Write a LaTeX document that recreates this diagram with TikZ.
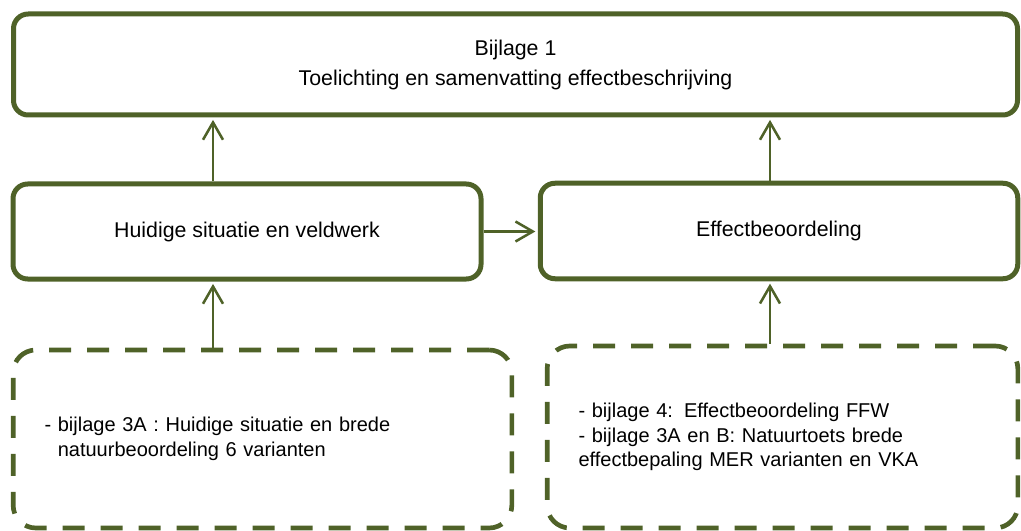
\documentclass[tikz,border=0pt]{standalone}
\usepackage{fontspec}
\setmainfont{Liberation Sans}
\usetikzlibrary{arrows.meta}
\definecolor{boxgreen}{HTML}{4F6228}
\newcommand{\px}{0.75pt}
\newcommand{\boxline}{3.75pt}
\newcommand{\arrline}{1.9pt}

\begin{document}
\begin{tikzpicture}[x=\px, y=-\px,
  box/.style={draw=boxgreen, line width=\boxline, rounded corners=11pt,
    align=center, font=\fontsize{16}{22.5}\selectfont},
  dashbox/.style={draw=boxgreen, line width=3.5pt, rounded corners=17pt,
    dash pattern=on 16.5pt off 12pt, align=left, inner xsep=23.5pt,
    font=\fontsize{15}{18.5}\selectfont},
  arr/.style={draw=boxgreen, line width=\arrline,
    -{Straight Barb[length=13pt,width=15pt]}, shorten >=1.8pt}]
\useasboundingbox (0,0) rectangle (1021,531);
    % Bijlagen en hun samenhang
\node (top) at (515.5,64.5) [box, minimum width=1004*\px, minimum height=101*\px]
  {Bijlage 1\\Toelichting en samenvatting effectbeschrijving};
\node (huidig) at (247,231.5) [box, minimum width=468*\px, minimum height=95*\px]
  {Huidige situatie en veldwerk};
\node (effect) at (779,231) [box, minimum width=477.5*\px, minimum height=95.5*\px]
  {Effectbeoordeling};
\node (bijl3) at (262.5,439) [dashbox, text width=436*\px, minimum height=178*\px]
  {- bijlage 3A : Huidige situatie en brede\\
   \phantom{- }natuurbeoordeling 6 varianten};
\node (bijl4) at (782.5,437) [dashbox, text width=408*\px, minimum height=182*\px]
  {- bijlage 4:\hspace{0.556em}Effectbeoordeling FFW\\
   - bijlage 3A en B: Natuurtoets brede\\
   effectbepaling MER varianten en VKA};

\coordinate (links) at (213,0);
\coordinate (rechts) at (770,0);

\draw[arr] (bijl3.north -| links) to (huidig.south -| links);
\draw[arr] (bijl4.north -| rechts) to (effect.south -| rechts);
\draw[arr] (huidig.north -| links) to (top.south -| links);
\draw[arr] (effect.north -| rechts) to (top.south -| rechts);
\draw[arr] (huidig.east) to (huidig.east -| effect.west);

\end{tikzpicture}
\end{document}
